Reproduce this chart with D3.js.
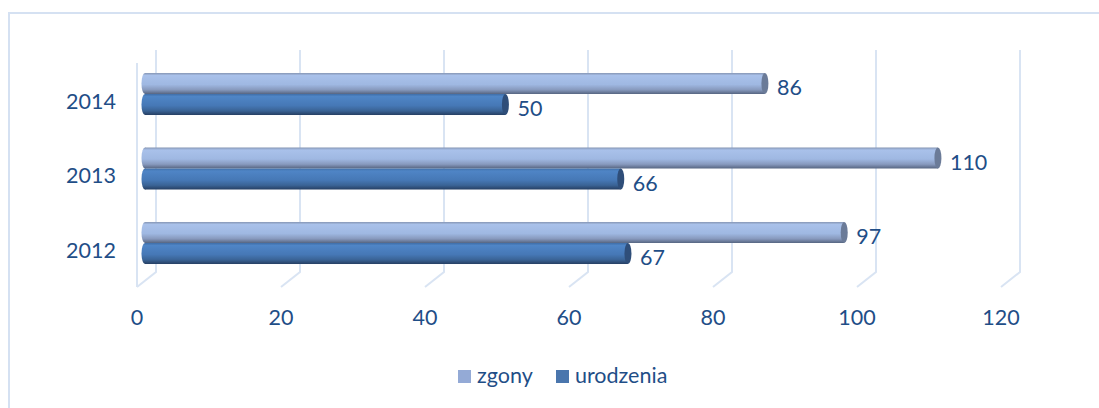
<!DOCTYPE html>
<html>
<head>
<meta charset="utf-8">
<script src="https://cdn.jsdelivr.net/npm/d3@7"></script>
<style>
  body { margin: 0; background: #fff; }
  text { font-family: Lato, "Open Sans", sans-serif; fill: #1f4e87; }
</style>
</head>
<body>
<div id="chart"></div>
<script>
const years = ["2014", "2013", "2012"];
const series = ["zgony", "urodzenia"];
const zgony = [86, 110, 97];
const urodzenia = [50, 66, 67];
const ticks = [0, 20, 40, 60, 80, 100, 120];

const width = 1099, height = 408;
const fontSize = 21.5;

const data = [];
years.forEach(function(y, i) {
  data.push({ year: y, key: "zgony", value: zgony[i] });
  data.push({ year: y, key: "urodzenia", value: urodzenia[i] });
});

const svg = d3.select("#chart").append("svg")
  .attr("width", width)
  .attr("height", height);

// gradients for the cylinder look
const defs = svg.append("defs");
function grad(id, stops) {
  const g = defs.append("linearGradient")
    .attr("id", id)
    .attr("x1", 0).attr("y1", 0).attr("x2", 0).attr("y2", 1);
  stops.forEach(function(s) {
    g.append("stop").attr("offset", s[0]).attr("stop-color", s[1]);
  });
}
grad("g-zgony", [[0, "#8696b4"], [0.12, "#a9c1ea"], [0.55, "#9fb8e2"], [0.8, "#8799bd"], [1, "#566581"]]);
grad("g-urodzenia", [[0, "#3f6ea8"], [0.12, "#4f85c6"], [0.55, "#4678b6"], [0.8, "#3a6395"], [1, "#263f63"]]);

const capColor = { zgony: "#6b7b98", urodzenia: "#2f4e79" };
const swatch = { zgony: "#94aad6", urodzenia: "#4a76ad" };

// outer frame
svg.append("rect")
  .attr("x", 9).attr("y", 13)
  .attr("width", width).attr("height", height)
  .attr("fill", "none")
  .attr("stroke", "#d5e1f2")
  .attr("stroke-width", 2);

// scales: back wall, floor front edge, and bars (mid depth)
const xBack = d3.scaleLinear().domain([0, 120]).range([156, 1020]);
const xFront = d3.scaleLinear().domain([0, 120]).range([137, 1001]);
const x = d3.scaleLinear().domain([0, 120]).range([145, 1010]);

const y = d3.scaleBand()
  .domain(years)
  .range([56.75, 280.25])
  .paddingInner(0.436)
  .paddingOuter(0.218);
const ySub = d3.scaleBand().domain(series).range([0, y.bandwidth()]);

const wallTop = 50, wallBottom = 272, floorFront = 287;

// gridlines on back wall + floor
const grid = svg.append("g").attr("stroke", "#d9e4f3").attr("stroke-width", 2).attr("fill", "none");
grid.selectAll("path.grid")
  .data(ticks)
  .enter()
  .append("path")
  .attr("class", "grid")
  .attr("d", function(d) {
    return "M" + xBack(d) + "," + wallTop +
      " L" + xBack(d) + "," + wallBottom +
      " L" + xFront(d) + "," + floorFront;
  });
// left wall edge
grid.append("line")
  .attr("x1", xFront(0)).attr("x2", xFront(0))
  .attr("y1", 63).attr("y2", floorFront);

// x tick labels
svg.append("g")
  .selectAll("text")
  .data(ticks)
  .enter()
  .append("text")
  .attr("x", d => xFront(d))
  .attr("y", 325)
  .attr("text-anchor", "middle")
  .style("font-size", fontSize + "px")
  .text(d => d);

// year labels
svg.append("g")
  .selectAll("text")
  .data(years)
  .enter()
  .append("text")
  .attr("x", 116)
  .attr("y", d => y(d) + y.bandwidth() / 2 + 7)
  .attr("dy", "0.36em")
  .attr("text-anchor", "end")
  .style("font-size", fontSize + "px")
  .text(d => d);

// bars
const bh = ySub.bandwidth();
const rx = 3.5;
const bars = svg.append("g")
  .selectAll("g")
  .data(data)
  .enter()
  .append("g")
  .attr("transform", d => "translate(0," + (y(d.year) + ySub(d.key)) + ")");

bars.append("ellipse") // rounded start
  .attr("cx", x(0))
  .attr("cy", bh / 2)
  .attr("rx", rx)
  .attr("ry", bh / 2)
  .attr("fill", d => "url(#g-" + d.key + ")");

bars.append("rect")
  .attr("x", x(0))
  .attr("y", 0)
  .attr("width", d => x(d.value) - x(0))
  .attr("height", bh)
  .attr("fill", d => "url(#g-" + d.key + ")");

bars.append("ellipse") // end cap
  .attr("cx", d => x(d.value))
  .attr("cy", bh / 2)
  .attr("rx", rx)
  .attr("ry", bh / 2)
  .attr("fill", d => capColor[d.key]);

bars.append("text")
  .attr("x", d => x(d.value) + 12)
  .attr("y", bh / 2 + 4)
  .attr("dy", "0.36em")
  .style("font-size", fontSize + "px")
  .text(d => d.value);

// legend
const legendX = [458, 556];
const legend = svg.append("g")
  .selectAll("g")
  .data(series)
  .enter()
  .append("g")
  .attr("transform", (d, i) => "translate(" + legendX[i] + ",0)");
legend.append("rect")
  .attr("x", 0).attr("y", 370)
  .attr("width", 13).attr("height", 13)
  .attr("fill", d => swatch[d]);
legend.append("text")
  .attr("x", 19)
  .attr("y", 383)
  .style("font-size", fontSize + "px")
  .text(d => d);
</script>
</body>
</html>
